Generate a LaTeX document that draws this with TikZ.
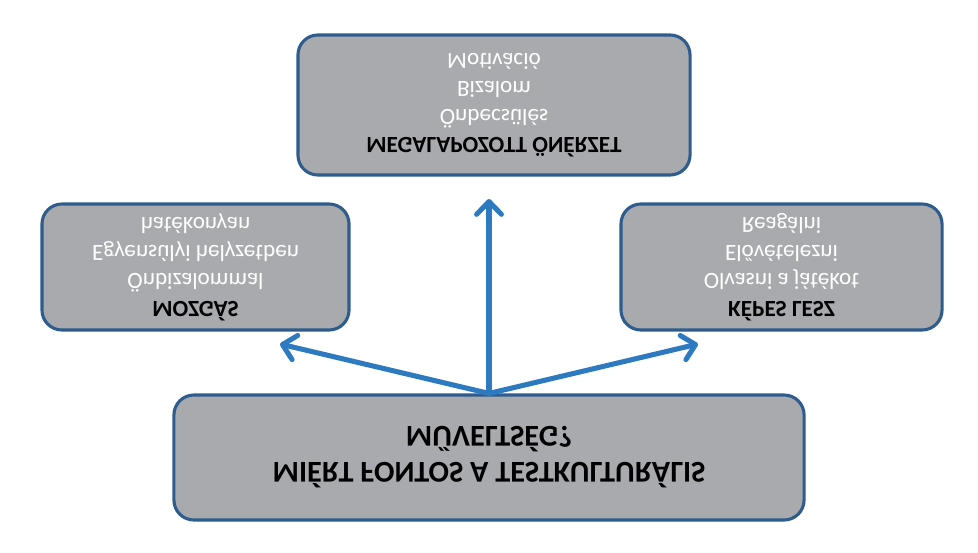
\documentclass[tikz,border=0pt]{standalone}
\usepackage{fontspec}
\setmainfont{Carlito}
\usetikzlibrary{arrows.meta,positioning}
\definecolor{keret}{RGB}{46,92,140}
\definecolor{szurke}{RGB}{168,170,173}
\definecolor{kek}{RGB}{46,122,192}

\begin{document}
\begin{tikzpicture}[
			x=0.025cm, y=-0.025cm,
			>={Straight Barb[length=0.32cm, width=0.62cm, round]},
			doboz/.style={draw=keret, fill=szurke, line width=2.2pt,
				rounded corners=0.5cm, inner sep=0pt, yscale=-1, align=center,
				text=white, font={\fontsize{16.5}{19.9}\selectfont}},
			cim/.style={draw=keret, fill=szurke, line width=2.2pt,
				rounded corners=0.5cm, inner sep=0pt, yscale=-1, align=center,
				font={\fontsize{21.5}{25.5}\selectfont\bfseries}},
			nyil/.style={->, draw=kek, line width=3.6pt, line cap=round}
	]
	\useasboundingbox (0,0) rectangle (978,552);

	\node[cim, minimum width=15.75cm, minimum height=3.125cm] (muveltseg) at (489,457.5)
		{MIÉRT FONTOS A TESTKULTURÁLIS\\MŰVELTSÉG?};
	\node[doboz, minimum width=9.8cm, minimum height=3.5cm] (onerzet) at (494,105)
		{\textcolor{black}{\bfseries MEGALAPOZOTT ÖNÉRZET}\\Önbecsülés\\Bizalom\\Motiváció};
	\node[doboz, minimum width=7.675cm, minimum height=3.15cm] (mozgas) at (195.5,267)
		{\textcolor{black}{\bfseries MOZGÁS}\\Önbizalommal\\Egyensúlyi helyzetben\\hatékonyan};
	\node[doboz, minimum width=8.025cm, minimum height=3.15cm] (kepes) at (781.5,267)
		{\textcolor{black}{\bfseries KÉPES LESZ}\\Olvasni a játékot\\Elővételezni\\Reagálni};

% >> nyilak (a tukrozott doboz teteje a .south)
	\coordinate (felcsucs) at (489,199);
	\coordinate (balcsucs) at (280,344);
	\coordinate (jobbcsucs) at (698,344);
	\draw[nyil] (muveltseg.south) -- (felcsucs);
	\draw[nyil] (muveltseg.south) -- (balcsucs);
	\draw[nyil] (muveltseg.south) -- (jobbcsucs);
\end{tikzpicture}
\end{document}
